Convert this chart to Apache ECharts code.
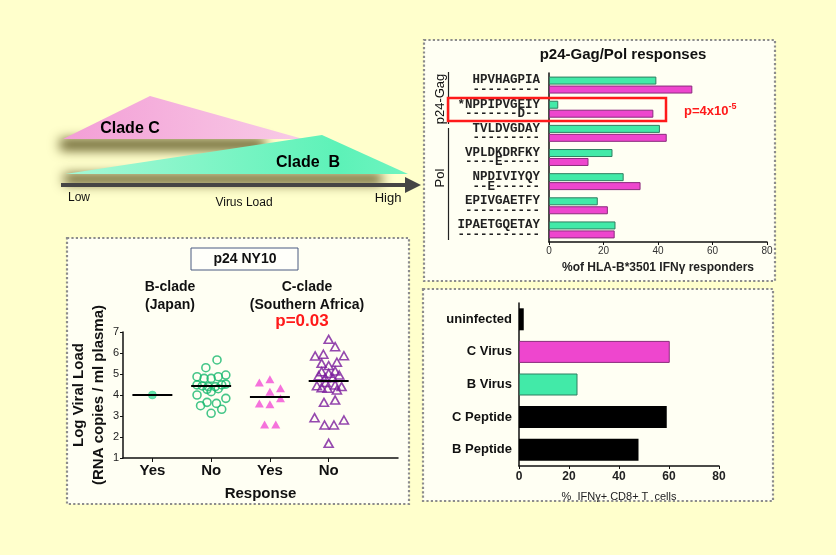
<!DOCTYPE html>
<html><head><meta charset="utf-8">
<script src="https://cdn.jsdelivr.net/npm/echarts@6/dist/echarts.min.js"></script>
<style>html,body{margin:0;padding:0;background:#FFFFCC}#c{width:836px;height:555px}</style>
</head><body><div id="c"></div>
<script>
// ---- Panel A: p24-Gag/Pol responses ----
const gagPolPeptides = ['HPVHAGPIA','*NPPIPVGEIY','TVLDVGDAY','VPLDKDRFKY','NPDIVIYQY','EPIVGAETFY','IPAETGQETAY'];
const gagPolVariants = ['---------','-------D--','---------','----E-----','--E------','----------','-----------'];
const cladeBResp = [39.4, 3.4, 40.7, 23.3, 27.4, 17.9, 24.4];
const cladeCResp = [52.6, 38.3, 43.2, 14.5, 33.6, 21.6, 24.1];
const respTicks = [0, 20, 40, 60, 80];

// ---- Panel B: p24 NY10 viral load ----
const groupLabels = ['Yes', 'No', 'Yes', 'No'];
const bYesVL = [4.0];
const bYesJit = [0];
const bNoVL = [5.67,5.30,4.87,4.79,4.79,4.87,4.95,4.48,4.43,4.40,4.40,4.48,4.52,4.27,4.16,4.30,4.00,3.84,3.65,3.60,3.49,3.32,3.13];
const bNoJit = [0.10,-0.09,-0.24,-0.12,0,0.12,0.25,-0.24,-0.15,-0.05,0.07,0.18,0.25,-0.07,0,0.12,-0.24,0.25,-0.07,0.09,-0.18,0.18,0];
const cYesVL = [4.60,4.75,4.32,4.16,3.84,3.60,3.56,2.60,2.60];
const cYesJit = [-0.18,0,0.18,0,0.18,-0.18,0,-0.09,0.10];
const cNoVL = [6.65,6.30,5.86,5.94,5.87,5.51,5.40,5.56,5.14,5.11,5.03,4.92,4.95,4.82,4.82,4.44,4.35,4.32,4.48,4.40,4.24,4.60,3.65,3.76,2.92,2.57,2.57,2.81,1.70];
const cNoJit = [0,0.11,-0.23,-0.09,0.26,-0.12,0,0.14,0.11,-0.12,0,-0.17,0.18,-0.06,0.07,-0.20,-0.12,-0.02,0.11,0.22,0.14,-0.05,-0.08,0.11,-0.24,-0.07,0.09,0.26,0];
const medians = [4.0, 4.43, 3.90, 4.67];

// ---- Panel C: IFNg+ CD8+ T cells ----
const ifnCats = ['uninfected', 'C Virus', 'B Virus', 'C Peptide', 'B Peptide'];
const ifnVals = [1.9, 60.3, 23.4, 59.1, 47.8];

const GREEN = '#42EAA8', GREEN_B = '#2F7E60';
const PINK = '#EE46CE', PINK_B = '#8A2C7C';
const FONT = '"Liberation Sans", Arial, sans-serif';

function pts(vals, jit, g) { return vals.map((v, i) => [g + jit[i], v]); }
function medLine(g, m) { return { silent: true, symbol: 'none', lineStyle: { color: '#000', width: 2, type: 'solid' }, label: { show: false },
  data: [[{ coord: [g - 0.34, m] }, { coord: [g + 0.34, m] }]] }; }

const chart = echarts.init(document.getElementById('c'));
const dot = { stroke: '#8C8C8C', lineWidth: 2.2, lineDash: [2.2, 2.2], fill: '#FFFFF3' };
const OFF = 800;
function blurBand(x, y, w, h, blur, col) {
  return { type: 'rect', shape: { x: x, y: y - OFF, width: w, height: h },
    style: { fill: col, shadowBlur: blur, shadowColor: col, shadowOffsetX: 0, shadowOffsetY: OFF } };
}

const graphic = [
  // panels
  { type: 'rect', z: -5, shape: { x: 424, y: 40, width: 351, height: 241 }, style: dot },
  { type: 'rect', z: -5, shape: { x: 67, y: 238, width: 342, height: 266 }, style: dot },
  { type: 'rect', z: -5, shape: { x: 423, y: 289, width: 350, height: 212 }, style: dot },
  // diagram shadows & triangles
  Object.assign(blurBand(60, 139, 205, 11, 12, 'rgba(90,82,30,1)'), { z: 1 }),
  { type: 'polygon', z: 2, shape: { points: [[63, 139], [150, 96], [303, 139]] }, style: { fill: { type: 'linear', x: 0, y: 0, x2: 1, y2: 0,
    colorStops: [{ offset: 0, color: '#F39ED6' }, { offset: 1, color: '#F8CBE6' }] } } },
  Object.assign(blurBand(64, 174, 318, 10, 12, 'rgba(90,82,30,1)'), { z: 3 }),
  { type: 'polygon', z: 4, shape: { points: [[65, 174], [322, 135], [408, 174]] }, style: { fill: { type: 'linear', x: 0, y: 0, x2: 1, y2: 0,
    colorStops: [{ offset: 0, color: '#A6F8D6' }, { offset: 0.8, color: '#5DF2B8' }, { offset: 1, color: '#6FF4C0' }] } } },
  { type: 'line', z: 5, shape: { x1: 61, y1: 185, x2: 408, y2: 185 }, style: { stroke: '#454545', lineWidth: 4 } },
  { type: 'polygon', z: 5, shape: { points: [[405, 177], [421, 185], [405, 193]] }, style: { fill: '#454545' } },
  { type: 'text', z: 6, style: { text: 'Clade C', x: 130, y: 129, align: 'center', verticalAlign: 'middle', font: 'bold 16px ' + FONT, fill: '#000' } },
  { type: 'text', z: 6, style: { text: 'Clade  B', x: 308, y: 163, align: 'center', verticalAlign: 'middle', font: 'bold 16px ' + FONT, fill: '#000' } },
  { type: 'text', z: 6, style: { text: 'Low', x: 68, y: 198, align: 'left', verticalAlign: 'middle', font: '12px ' + FONT, fill: '#111' } },
  { type: 'text', z: 6, style: { text: 'Virus Load', x: 244, y: 203, align: 'center', verticalAlign: 'middle', font: '12px ' + FONT, fill: '#111' } },
  { type: 'text', z: 6, style: { text: 'High', x: 388, y: 198, align: 'center', verticalAlign: 'middle', font: '13px ' + FONT, fill: '#111' } },
  // panel A extras
  { type: 'text', z: 6, style: { text: 'p24-Gag/Pol responses', x: 623, y: 55, align: 'center', verticalAlign: 'middle', font: 'bold 15px ' + FONT, fill: '#111' } },
  { type: 'line', z: 6, shape: { x1: 448.5, y1: 72, x2: 448.5, y2: 124 }, style: { stroke: '#222', lineWidth: 1.2 } },
  { type: 'line', z: 6, shape: { x1: 448.5, y1: 128, x2: 448.5, y2: 240 }, style: { stroke: '#222', lineWidth: 1.2 } },
  { type: 'text', z: 6, rotation: Math.PI / 2, x: 440, y: 99, style: { text: 'p24-Gag', x: 0, y: 0, align: 'center', verticalAlign: 'middle', font: '13px ' + FONT, fill: '#111' } },
  { type: 'text', z: 6, rotation: Math.PI / 2, x: 440, y: 178, style: { text: 'Pol', x: 0, y: 0, align: 'center', verticalAlign: 'middle', font: '13px ' + FONT, fill: '#111' } },
  { type: 'rect', z: 20, shape: { x: 448, y: 98, width: 218, height: 23 }, style: { fill: 'none', stroke: '#FF1A1A', lineWidth: 2.5 } },
  { type: 'text', z: 20, style: { x: 684, y: 111, verticalAlign: 'middle', text: '{a|p=4x10}{s|-5}', rich: {
    a: { font: 'bold 13px ' + FONT, fill: '#FF1A1A' }, s: { font: 'bold 9px ' + FONT, fill: '#FF1A1A', verticalAlign: 'top', padding: [0, 0, 8, 0] } } } },
  // panel B extras
  { type: 'rect', z: 6, shape: { x: 191, y: 248, width: 107, height: 22 }, style: { fill: '#FFFFFA', stroke: '#4A5A80', lineWidth: 1 } },
  { type: 'text', z: 7, style: { text: 'p24 NY10', x: 245, y: 259, align: 'center', verticalAlign: 'middle', font: 'bold 14px ' + FONT, fill: '#111' } },
  { type: 'text', z: 7, style: { text: 'B-clade\n(Japan)', x: 170, y: 296, align: 'center', verticalAlign: 'middle', lineHeight: 18, font: 'bold 14px ' + FONT, fill: '#111' } },
  { type: 'text', z: 7, style: { text: 'C-clade\n(Southern Africa)', x: 307, y: 296, align: 'center', verticalAlign: 'middle', lineHeight: 18, font: 'bold 14px ' + FONT, fill: '#111' } },
  { type: 'text', z: 7, style: { text: 'p=0.03', x: 302, y: 321, align: 'center', verticalAlign: 'middle', font: 'bold 17px ' + FONT, fill: '#FF1A1A' } }
];

const option = {
  backgroundColor: '#FFFFCC',
  animation: false,
  textStyle: { fontFamily: FONT },
  graphic: graphic,
  grid: [
    { left: 549, right: 69, top: 73, height: 169 },
    { left: 123, right: 438, top: 332, height: 126 },
    { left: 519, right: 117, top: 303, height: 163 }
  ],
  xAxis: [
    { gridIndex: 0, type: 'value', min: 0, max: 80, interval: 20,
      axisLine: { show: true, lineStyle: { color: '#111', width: 1.5 } },
      axisTick: { show: true, length: 3, lineStyle: { color: '#111' } },
      axisLabel: { fontSize: 10, color: '#333', margin: 4 }, splitLine: { show: false },
      name: '%of HLA-B*3501 IFNγ responders', nameLocation: 'middle', nameGap: 20,
      nameTextStyle: { fontWeight: 'bold', fontSize: 12, color: '#222' } },
    { gridIndex: 1, type: 'value', min: 0.5, max: 5.18,
      axisLine: { show: true, lineStyle: { color: '#111', width: 1.5 } },
      axisTick: { show: true, length: 4, customValues: [1, 2, 3, 4], lineStyle: { color: '#111' } },
      axisLabel: { customValues: [1, 2, 3, 4], formatter: v => groupLabels[Math.round(v) - 1], fontWeight: 'bold', fontSize: 15, color: '#111', margin: 5 },
      splitLine: { show: false },
      name: 'Response', nameLocation: 'middle', nameGap: 28, nameTextStyle: { fontWeight: 'bold', fontSize: 15, color: '#111' } },
    { gridIndex: 2, type: 'value', min: 0, max: 80, interval: 20,
      axisLine: { show: true, lineStyle: { color: '#111', width: 1.5 } },
      axisTick: { show: true, length: 3, lineStyle: { color: '#111' } },
      axisLabel: { fontSize: 12, fontWeight: 'bold', color: '#222', margin: 5 }, splitLine: { show: false },
      name: '%  IFNγ+ CD8+ T  cells', nameLocation: 'middle', nameGap: 25,
      nameTextStyle: { fontSize: 11, color: '#222' } }
  ],
  yAxis: [
    { gridIndex: 0, type: 'category', inverse: true, data: gagPolPeptides.map((p, i) => p + '\n' + gagPolVariants[i]),
      axisLine: { show: true, lineStyle: { color: '#111', width: 1.5 } }, axisTick: { show: false },
      axisLabel: { fontFamily: '"Liberation Mono", "Courier New", monospace', fontWeight: 'bold', fontSize: 12.5, lineHeight: 9.5, color: '#222', margin: 9, align: 'right' } },
    { gridIndex: 1, type: 'value', min: 1, max: 7, interval: 1,
      axisLine: { show: true, lineStyle: { color: '#111', width: 1.5 } },
      axisTick: { show: true, length: 3, lineStyle: { color: '#111' } },
      axisLabel: { fontSize: 11, color: '#222', margin: 4 }, splitLine: { show: false },
      name: 'Log Viral Load\n(RNA copies / ml plasma)', nameLocation: 'middle', nameGap: 14,
      nameTextStyle: { fontWeight: 'bold', fontSize: 15, lineHeight: 20, color: '#111' } },
    { gridIndex: 2, type: 'category', inverse: true, data: ifnCats,
      axisLine: { show: true, lineStyle: { color: '#111', width: 1.5 } }, axisTick: { show: false },
      axisLabel: { fontWeight: 'bold', fontSize: 13, color: '#111', margin: 7 } }
  ],
  series: [
    { type: 'bar', xAxisIndex: 0, yAxisIndex: 0, data: cladeBResp, barWidth: 8, barGap: '12%',
      itemStyle: { color: GREEN, borderColor: GREEN_B, borderWidth: 1 } },
    { type: 'bar', xAxisIndex: 0, yAxisIndex: 0, data: cladeCResp, barWidth: 8, barGap: '12%',
      itemStyle: { color: PINK, borderColor: PINK_B, borderWidth: 1 } },
    { type: 'scatter', xAxisIndex: 1, yAxisIndex: 1, data: pts(bYesVL, bYesJit, 1), symbol: 'circle', symbolSize: 8,
      itemStyle: { color: '#3FE09A', borderColor: '#2BC888', borderWidth: 0.5 }, markLine: medLine(1, medians[0]) },
    { type: 'scatter', xAxisIndex: 1, yAxisIndex: 1, data: pts(bNoVL, bNoJit, 2), symbol: 'circle', symbolSize: 8,
      itemStyle: { color: 'rgba(0,0,0,0)', borderColor: '#17B86E', borderWidth: 1.6 }, markLine: medLine(2, medians[1]) },
    { type: 'scatter', xAxisIndex: 1, yAxisIndex: 1, data: pts(cYesVL, cYesJit, 3), symbol: 'triangle', symbolSize: [9, 8],
      itemStyle: { color: '#F24FD4' }, markLine: medLine(3, medians[2]) },
    { type: 'scatter', xAxisIndex: 1, yAxisIndex: 1, data: pts(cNoVL, cNoJit, 4), symbol: 'triangle', symbolSize: [9, 8],
      itemStyle: { color: 'rgba(0,0,0,0)', borderColor: '#7A1B9C', borderWidth: 1.6 }, markLine: medLine(4, medians[3]) },
    { type: 'bar', xAxisIndex: 2, yAxisIndex: 2, barWidth: 22,
      data: ifnVals.map((v, i) => ({ value: v, itemStyle: i === 1 ? { color: PINK, borderColor: PINK_B, borderWidth: 1 } : i === 2 ? { color: GREEN, borderColor: GREEN_B, borderWidth: 1 } : { color: '#000' } })) }
  ]
};
chart.setOption(option);
</script></body></html>
